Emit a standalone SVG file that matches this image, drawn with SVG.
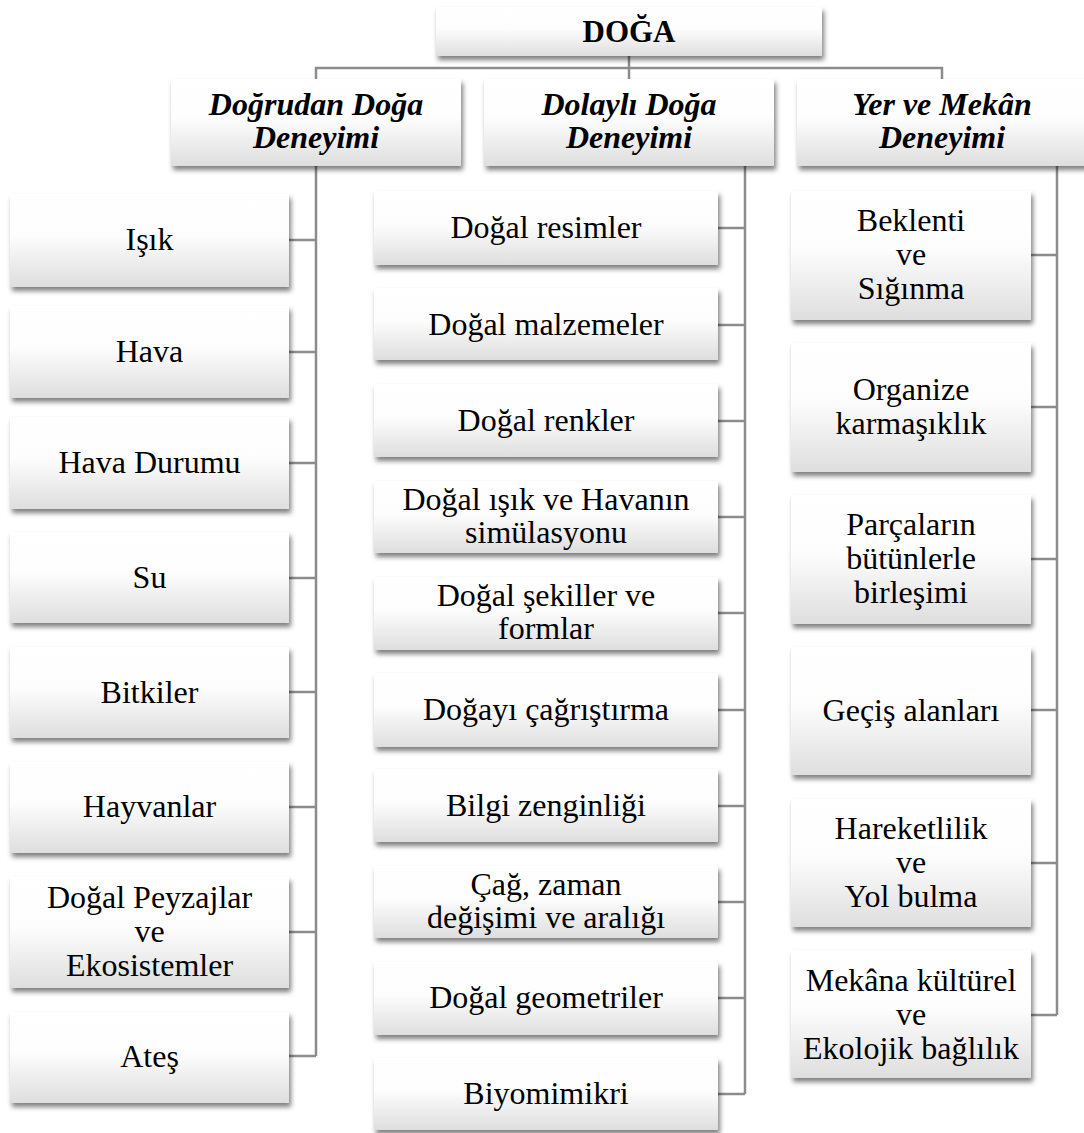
<svg xmlns="http://www.w3.org/2000/svg" width="1084" height="1133" viewBox="0 0 1084 1133">
<style>
.box{fill:url(#g);filter:url(#sh)}
.t{font-family:"Liberation Serif","Times New Roman",serif;font-size:32px;fill:#000;text-anchor:middle}
.h{font-weight:bold;font-style:italic}
.b{font-weight:bold;font-size:31px}
.c{fill:none;stroke:#8c8c8c;stroke-width:2.5}
</style>
<defs>
<linearGradient id="g" x1="0" y1="0" x2="0" y2="1">
<stop offset="0" stop-color="#ffffff"/>
<stop offset="0.45" stop-color="#fdfdfd"/>
<stop offset="1" stop-color="#dedede"/>
</linearGradient>
<filter id="sh" x="-10%" y="-10%" width="125%" height="130%">
<feDropShadow dx="2" dy="4" stdDeviation="2.5" flood-color="#000" flood-opacity="0.5"/>
</filter>
</defs>
<rect width="1084" height="1133" fill="#fff"/>
<g id="connectors">
<path class="c" d="M629 56V79M316 79V68H942V79"/>
<path class="c" d="M316 166V1056M289 240H316M289 352H316M289 463H316M289 578H316M289 692H316M289 807H316M289 932H316M289 1056H316"/>
<path class="c" d="M745 166V1094M718 228H745M718 325H745M718 421H745M718 517H745M718 613H745M718 710H745M718 806H745M718 902H745M718 998H745M718 1094H745"/>
<path class="c" d="M1057 166V1015M1031 255H1057M1031 407H1057M1031 559H1057M1031 710H1057M1031 863H1057M1031 1015H1057"/>
</g>
<g id="n-doga"><rect class="box" x="436" y="7" width="386" height="49"/><text class="t b" x="629" y="42">DOĞA</text></g>
<g id="n-dogrudan"><rect class="box" x="171" y="79" width="290" height="87"/><text class="t h" x="316" y="115">Doğrudan Doğa</text><text class="t h" x="316" y="148">Deneyimi</text></g>
<g id="n-dolayli"><rect class="box" x="484" y="79" width="290" height="87"/><text class="t h" x="629" y="115">Dolaylı Doğa</text><text class="t h" x="629" y="148">Deneyimi</text></g>
<g id="n-yer"><rect class="box" x="797" y="79" width="290" height="87"/><text class="t h" x="942" y="115">Yer ve Mekân</text><text class="t h" x="942" y="148">Deneyimi</text></g>

<g id="n-isik"><rect class="box" x="10" y="194" width="279" height="93"/><text class="t" x="149.5" y="250">Işık</text></g>
<g id="n-hava"><rect class="box" x="10" y="306" width="279" height="92"/><text class="t" x="149.5" y="362">Hava</text></g>
<g id="n-havadurumu"><rect class="box" x="10" y="417" width="279" height="92"/><text class="t" x="149.5" y="473">Hava Durumu</text></g>
<g id="n-su"><rect class="box" x="10" y="532" width="279" height="91"/><text class="t" x="149.5" y="588">Su</text></g>
<g id="n-bitkiler"><rect class="box" x="10" y="647" width="279" height="91"/><text class="t" x="149.5" y="703">Bitkiler</text></g>
<g id="n-hayvanlar"><rect class="box" x="10" y="762" width="279" height="91"/><text class="t" x="149.5" y="817">Hayvanlar</text></g>
<g id="n-peyzaj"><rect class="box" x="10" y="877" width="279" height="111"/><text class="t" x="149.5" y="908">Doğal Peyzajlar</text><text class="t" x="149.5" y="942">ve</text><text class="t" x="149.5" y="976">Ekosistemler</text></g>
<g id="n-ates"><rect class="box" x="10" y="1012" width="279" height="91"/><text class="t" x="149.5" y="1067">Ateş</text></g>

<g id="n-resimler"><rect class="box" x="374" y="191" width="344" height="74"/><text class="t" x="546" y="238">Doğal resimler</text></g>
<g id="n-malzemeler"><rect class="box" x="374" y="288" width="344" height="72"/><text class="t" x="546" y="335">Doğal malzemeler</text></g>
<g id="n-renkler"><rect class="box" x="374" y="384" width="344" height="73"/><text class="t" x="546" y="431">Doğal renkler</text></g>
<g id="n-isikhava"><rect class="box" x="374" y="481" width="344" height="72"/><text class="t" x="546" y="510">Doğal ışık ve Havanın</text><text class="t" x="546" y="543">simülasyonu</text></g>
<g id="n-sekiller"><rect class="box" x="374" y="577" width="344" height="73"/><text class="t" x="546" y="606">Doğal şekiller ve</text><text class="t" x="546" y="639">formlar</text></g>
<g id="n-cagristirma"><rect class="box" x="374" y="673" width="344" height="74"/><text class="t" x="546" y="720">Doğayı çağrıştırma</text></g>
<g id="n-bilgi"><rect class="box" x="374" y="769" width="344" height="73"/><text class="t" x="546" y="816">Bilgi zenginliği</text></g>
<g id="n-cag"><rect class="box" x="374" y="866" width="344" height="72"/><text class="t" x="546" y="895">Çağ, zaman</text><text class="t" x="546" y="928">değişimi ve aralığı</text></g>
<g id="n-geometriler"><rect class="box" x="374" y="962" width="344" height="73"/><text class="t" x="546" y="1008">Doğal geometriler</text></g>
<g id="n-biyomimikri"><rect class="box" x="374" y="1058" width="344" height="72"/><text class="t" x="546" y="1104">Biyomimikri</text></g>

<g id="n-beklenti"><rect class="box" x="791" y="191" width="240" height="129"/><text class="t" x="911" y="231">Beklenti</text><text class="t" x="911" y="265">ve</text><text class="t" x="911" y="299">Sığınma</text></g>
<g id="n-organize"><rect class="box" x="791" y="343" width="240" height="129"/><text class="t" x="911" y="400">Organize</text><text class="t" x="911" y="434">karmaşıklık</text></g>
<g id="n-parcalar"><rect class="box" x="791" y="495" width="240" height="129"/><text class="t" x="911" y="535">Parçaların</text><text class="t" x="911" y="569">bütünlerle</text><text class="t" x="911" y="603">birleşimi</text></g>
<g id="n-gecis"><rect class="box" x="791" y="647" width="240" height="128"/><text class="t" x="911" y="721">Geçiş alanları</text></g>
<g id="n-hareket"><rect class="box" x="791" y="799" width="240" height="128"/><text class="t" x="911" y="839">Hareketlilik</text><text class="t" x="911" y="873">ve</text><text class="t" x="911" y="907">Yol bulma</text></g>
<g id="n-mekana"><rect class="box" x="791" y="950" width="240" height="128"/><text class="t" x="911" y="991">Mekâna kültürel</text><text class="t" x="911" y="1025">ve</text><text class="t" x="911" y="1059">Ekolojik bağlılık</text></g>
</svg>
